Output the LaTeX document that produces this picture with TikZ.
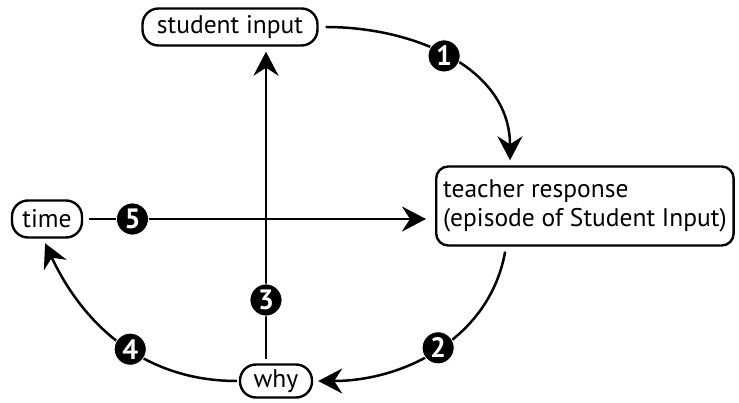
\documentclass[tikz,border=0pt]{standalone}
\usepackage{fontspec}
\setmainfont{PT Sans}
\usetikzlibrary{arrows.meta}
\tikzset{
  box/.style={draw, line width=2.4pt, rounded corners=16pt, font=\fontsize{25.5}{29}\selectfont, inner sep=0pt},
  conn/.style={line width=2.5pt, -{Stealth[length=24pt,width=25pt,inset=8pt]}},
  badge/.style={circle, fill=black, draw=white, line width=0.8pt, text=white, minimum size=32pt, inner sep=0pt, font=\fontsize{28}{28}\selectfont\bfseries},
}
\begin{document}
\begin{tikzpicture}[x=1pt,y=1pt]
\useasboundingbox (0,0) rectangle (739,402);
\node[box, minimum width=175pt, minimum height=37pt] (si) at (230,375) {student input};
\node[box, anchor=west, minimum height=79pt, inner xsep=7pt, align=left, rounded corners=12pt] (tr) at (435,196) {teacher response\\(episode of Student Input)};
\node[box, minimum width=70pt, minimum height=37pt] (time) at (47,183) {time};
\node[box, minimum width=72pt, minimum height=33pt] (why) at (276,21) {why};
\coordinate (vx) at (266,0);
% vertical connector 3
\draw[conn, shorten <=4pt, shorten >=5pt] (why.north -| vx) -- node[badge, pos=0.2] {3} (si.south -| vx);
% horizontal connector 5
\draw[conn, shorten <=6pt, shorten >=9pt] (time.east) -- node[badge, pos=0.14] {5} (tr.west |- time.east);
% arc 1
\draw[conn, shorten <=7pt, shorten >=5pt] (si.east) to[out=0, in=90, looseness=1.05] node[badge, pos=0.47] {1} ([xshift=75pt]tr.north west);
% arc 2
\draw[conn, shorten <=5pt, shorten >=5pt] ([xshift=71pt]tr.south west) to[out=-100, in=0, looseness=1.0] node[badge, pos=0.5] {2} (why.east);
% arc 4
\draw[conn, shorten <=2pt, shorten >=5pt] (why.west) to[out=180, in=-65, looseness=1.0] node[badge, pos=0.45] {4} ([xshift=-4pt]time.south);
\end{tikzpicture}
\end{document}
